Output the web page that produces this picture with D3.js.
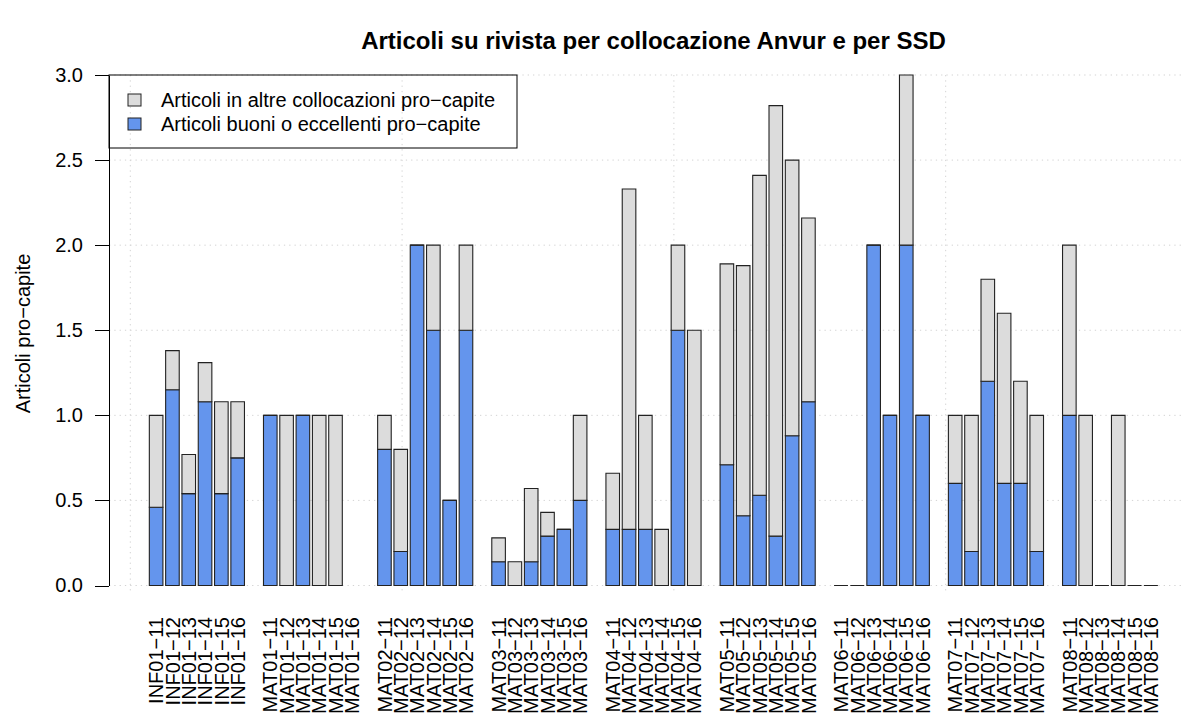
<!DOCTYPE html>
<html>
<meta charset="utf-8">
<style>
body { margin: 0; background: #fff; }
svg { font-family: "Liberation Sans", Arial, Helvetica, sans-serif; }
.axis path, .axis line { fill: none; stroke: #000; stroke-width: 1; shape-rendering: crispEdges; }
.axis text { font-size: 20px; fill: #000; }
.grid line { stroke: #d3d3d3; stroke-width: 1; stroke-dasharray: 1.3,4; }
.bar { stroke: #222; stroke-width: 1.1; }
</style>
<body>
<script src="https://d3js.org/d3.v7.min.js"></script>
<script>
// SSD groups and years
var ssd = ["INF01", "MAT01", "MAT02", "MAT03", "MAT04", "MAT05", "MAT06", "MAT07", "MAT08"];
var years = ["11", "12", "13", "14", "15", "16"];

// Articoli buoni o eccellenti pro-capite (blue), one row per SSD
var buoni = [
	[0.46, 1.15, 0.54, 1.08, 0.54, 0.75],
	[1.00, 0.00, 1.00, 0.00, 0.00, null],
	[0.80, 0.20, 2.00, 1.50, 0.50, 1.50],
	[0.14, 0.00, 0.14, 0.29, 0.33, 0.50],
	[0.33, 0.33, 0.33, 0.00, 1.50, 0.00],
	[0.71, 0.41, 0.53, 0.29, 0.88, 1.08],
	[0.00, 0.00, 2.00, 1.00, 2.00, 1.00],
	[0.60, 0.20, 1.20, 0.60, 0.60, 0.20],
	[1.00, 0.00, 0.00, 0.00, 0.00, 0.00]
];
// Articoli in altre collocazioni pro-capite (grey), stacked on top
var altre = [
	[0.54, 0.23, 0.23, 0.23, 0.54, 0.33],
	[0.00, 1.00, 0.00, 1.00, 1.00, null],
	[0.20, 0.60, 0.00, 0.50, 0.00, 0.50],
	[0.14, 0.14, 0.43, 0.14, 0.00, 0.50],
	[0.33, 2.00, 0.67, 0.33, 0.50, 1.50],
	[1.18, 1.47, 1.88, 2.53, 1.62, 1.08],
	[0.00, 0.00, 0.00, 0.00, 1.00, 0.00],
	[0.40, 0.80, 0.60, 1.00, 0.60, 0.80],
	[1.00, 1.00, 0.00, 1.00, 0.00, 0.00]
];
var yTicks = [0, 0.5, 1, 1.5, 2, 2.5, 3];
var xGrid = [0, 20, 40, 60];
var legendLabels = ["Articoli in altre collocazioni pro\u2212capite", "Articoli buoni o eccellenti pro\u2212capite"];
var colAltre = "#dcdcdc", colBuoni = "#6495ed";

var width = 1181, height = 713;
var plot = {left: 109, right: 1198, top: 75, bottom: 592};

// barplot units: each slot is width 1 + space 0.2, one empty slot before every group
var x = d3.scaleLinear().domain([-1.568, 78.568]).range([plot.left, plot.right]);
var y = d3.scaleLinear().domain([0, 3]).range([585.5, 75]);

var svg = d3.select("body").append("svg")
	.attr("width", width)
	.attr("height", height);

// flatten
var bars = [], allSlots = [];
ssd.forEach(function(s, g) {
	years.forEach(function(yr, j) {
		var k = 7 * g + 1 + j;
		allSlots.push({label: s + "\u2212" + yr, left: 0.2 + 1.2 * k});
		if (buoni[g][j] == null) return;
		bars.push({left: 0.2 + 1.2 * k, b: buoni[g][j], a: altre[g][j]});
	});
});

// grid
var grid = svg.append("g").attr("class", "grid");
grid.selectAll("line.h").data(yTicks).enter().append("line")
	.attr("class", "h")
	.attr("x1", plot.left).attr("x2", plot.right)
	.attr("y1", function(d) { return y(d); })
	.attr("y2", function(d) { return y(d); });
grid.selectAll("line.v").data(xGrid).enter().append("line")
	.attr("class", "v")
	.attr("x1", function(d) { return x(d); })
	.attr("x2", function(d) { return x(d); })
	.attr("y1", plot.top).attr("y2", plot.bottom);

// bars drawn as closed paths so zero-height segments still show their border
var bw = x(1) - x(0);
function seg(x0, v0, v1) {
	return "M" + x0 + "," + y(v0) + "H" + (x0 + bw) + "V" + y(v1) + "H" + x0 + "Z";
}
var gb = svg.append("g");
gb.selectAll("path.buoni").data(bars).enter().append("path")
	.attr("class", "bar buoni")
	.attr("d", function(d) { return seg(x(d.left), 0, d.b); })
	.style("fill", colBuoni);
gb.selectAll("path.altre").data(bars).enter().append("path")
	.attr("class", "bar altre")
	.attr("d", function(d) { return seg(x(d.left), d.b, d.b + d.a); })
	.style("fill", colAltre);

// y axis
svg.append("g")
	.attr("class", "axis")
	.attr("transform", "translate(" + plot.left + ",0)")
	.call(d3.axisLeft(y).tickValues(yTicks).tickFormat(d3.format(".1f")).tickSize(14).tickSizeOuter(0).tickPadding(12));

// x labels
svg.append("g").selectAll("text").data(allSlots).enter().append("text")
	.attr("transform", function(d) { return "translate(" + x(d.left + 0.5) + ",617) rotate(-90)"; })
	.attr("dy", "0.36em")
	.attr("text-anchor", "end")
	.attr("font-size", "20px")
	.text(function(d) { return d.label; });

// legend
var lg = svg.append("g");
lg.append("rect")
	.attr("x", 109).attr("y", 75)
	.attr("width", 408).attr("height", 73)
	.style("fill", "none")
	.style("stroke", "#000");
[colAltre, colBuoni].forEach(function(c, i) {
	lg.append("rect")
		.attr("x", 128).attr("y", 94 + i * 24)
		.attr("width", 13).attr("height", 12)
		.style("fill", c).style("stroke", "#222");
	lg.append("text")
		.attr("x", 161).attr("y", 100 + i * 24)
		.attr("dy", "0.36em")
		.attr("font-size", "20px")
		.text(legendLabels[i]);
});

// title and y label
svg.append("text")
	.attr("x", (plot.left + plot.right) / 2)
	.attr("y", 49)
	.attr("text-anchor", "middle")
	.attr("font-size", "24px")
	.attr("font-weight", "bold")
	.text("Articoli su rivista per collocazione Anvur e per SSD");

svg.append("text")
	.attr("transform", "translate(30," + ((plot.top + plot.bottom) / 2) + ") rotate(-90)")
	.attr("text-anchor", "middle")
	.attr("font-size", "20px")
	.text("Articoli pro\u2212capite");
</script>
</body>
</html>
